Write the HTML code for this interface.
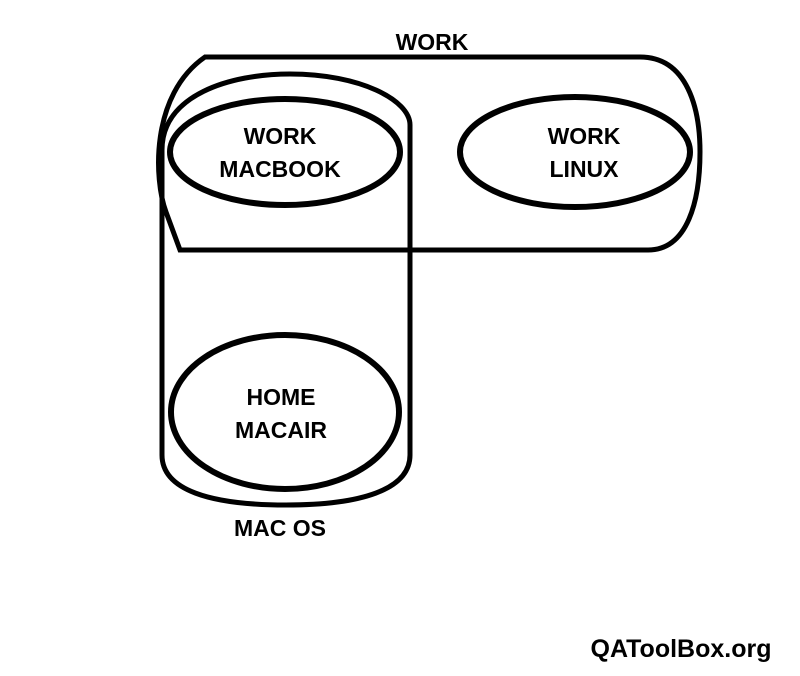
<!DOCTYPE html>
<html><head><style>
html,body{margin:0;padding:0;background:#fff;}
svg{display:block;}
text{font-family:"Liberation Sans",sans-serif;font-weight:bold;fill:#000;}
</style></head><body>
<svg width="800" height="676" viewBox="0 0 800 676" xmlns="http://www.w3.org/2000/svg">
<g fill="none" stroke="#000" stroke-width="5">
<path d="M205,57 H640 C688,57 700,110 700,152 C700,200 688,250 648,250 H180 L166,212 C154,180 150,95 205,57 Z"/>
<path d="M162,455 V150 C162,95 230,74 290,74 C360,74 410,100 410,125 V455 C410,490 360,505 286,505 C210,505 162,490 162,455 Z"/>
</g>
<g fill="none" stroke="#000" stroke-width="6">
<ellipse cx="285" cy="152" rx="115" ry="53"/>
<ellipse cx="575" cy="152" rx="115" ry="55"/>
<ellipse cx="285" cy="412" rx="114" ry="77"/>
</g>
<g font-size="23" text-anchor="middle">
<text x="432" y="50">WORK</text>
<text x="280" y="144">WORK</text>
<text x="280" y="177">MACBOOK</text>
<text x="584" y="144">WORK</text>
<text x="584" y="177">LINUX</text>
<text x="281" y="405">HOME</text>
<text x="281" y="438">MACAIR</text>
<text x="280" y="536">MAC OS</text>
<text x="681" y="657" font-size="25">QAToolBox.org</text>
</g>
</svg>
</body></html>
